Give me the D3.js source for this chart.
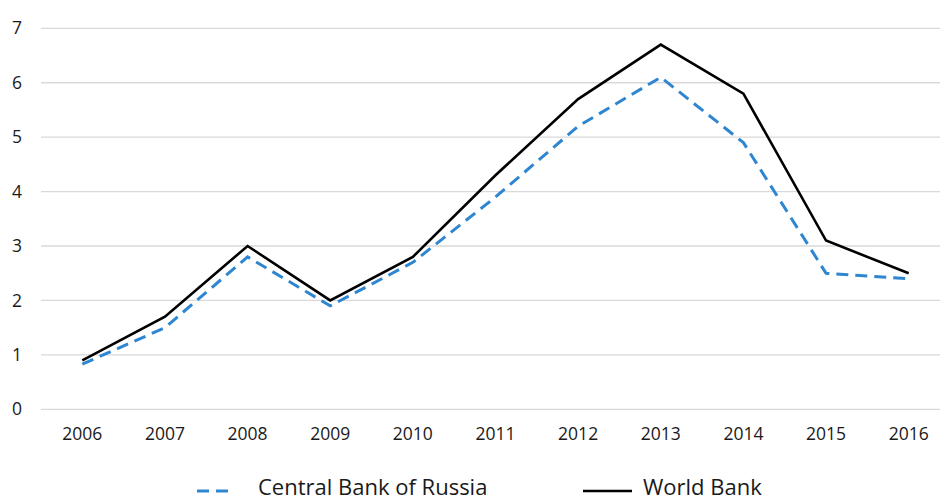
<!DOCTYPE html>
<html><head><meta charset="utf-8">
<script src="https://cdn.jsdelivr.net/npm/d3@7"></script>
<style>body{margin:0;background:#fff}svg{display:block}text{font-family:"Open Sans",sans-serif;fill:#1a1a1a}</style>
</head><body><svg id="c" width="940" height="502"></svg>
<script>
const years = ["2006","2007","2008","2009","2010","2011","2012","2013","2014","2015","2016"];
const centralBank = [0.83,1.5,2.8,1.9,2.7,3.9,5.2,6.1,4.9,2.5,2.4];
const worldBank = [0.9,1.7,3.0,2.0,2.8,4.3,5.7,6.7,5.8,3.1,2.5];
const yTicks = [0,1,2,3,4,5,6,7];
const seriesNames = ["Central Bank of Russia","World Bank"];

const svg = d3.select("#c");
const x = d3.scalePoint().domain(years).range([41,950]).padding(0.5);
const y = d3.scaleLinear().domain([0,7]).range([409.3,28.3]);

svg.append("g").selectAll("line").data(yTicks).join("line")
  .attr("x1",41).attr("x2",940).attr("y1",d=>y(d)).attr("y2",d=>y(d))
  .attr("stroke","#d9d9d9").attr("stroke-width",1.3);

svg.append("g").selectAll("text").data(yTicks).join("text")
  .attr("x",22).attr("y",d=>y(d)).attr("dy","0.35em").attr("text-anchor","end")
  .attr("font-size",17.5).text(d=>d);

svg.append("g").selectAll("text").data(years).join("text")
  .attr("x",d=>x(d)).attr("y",434).attr("dy","0.35em").attr("text-anchor","middle")
  .attr("font-size",17.5).text(d=>d);

const line = d3.line().x((d,i)=>x(years[i])).y(d=>y(d));
svg.append("path").datum(centralBank).attr("d",line).attr("fill","none")
  .attr("stroke","#2e86d0").attr("stroke-width",3).attr("stroke-dasharray","12,7");
svg.append("path").datum(worldBank).attr("d",line).attr("fill","none")
  .attr("stroke","#000").attr("stroke-width",2.6).attr("stroke-linejoin","miter");

const leg = svg.append("g");
leg.append("line").attr("x1",197).attr("x2",233).attr("y1",491).attr("y2",491)
  .attr("stroke","#2e86d0").attr("stroke-width",3).attr("stroke-dasharray","12,7");
leg.append("text").attr("x",258).attr("y",495).attr("font-size",22).text(seriesNames[0]);
leg.append("line").attr("x1",583).attr("x2",632).attr("y1",491).attr("y2",491)
  .attr("stroke","#000").attr("stroke-width",2.6);
leg.append("text").attr("x",643).attr("y",495).attr("font-size",22).text(seriesNames[1]);
</script></body></html>
